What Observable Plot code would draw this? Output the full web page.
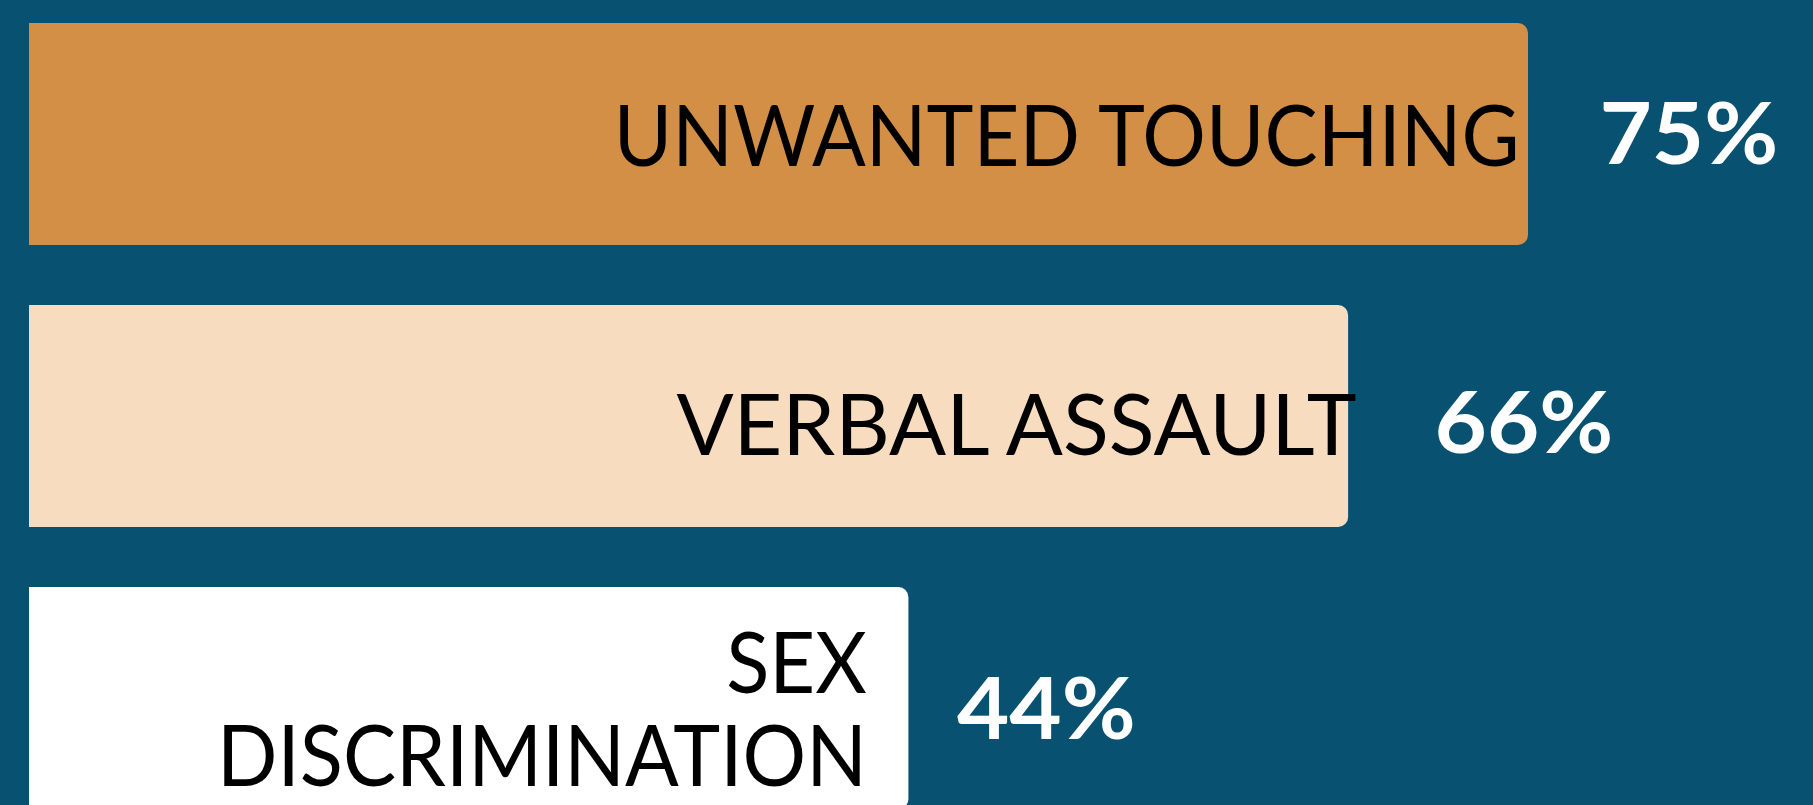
<!DOCTYPE html>
<html>
<head>
<meta charset="utf-8">
<script src="https://cdn.jsdelivr.net/npm/d3@7"></script>
<script src="https://cdn.jsdelivr.net/npm/@observablehq/plot@0.6"></script>
<style>
  html, body { margin: 0; padding: 0; background: #085170; overflow: hidden; }
  #chart svg { display: block; }
</style>
</head>
<body>
<div id="chart"></div>
<script>
// Data
const categories = ["UNWANTED TOUCHING", "VERBAL ASSAULT", "SEX\nDISCRIMINATION"];
const values = [75, 66, 44];
const valueLabels = ["75%", "66%", "44%"];
const palette = ["#d38f45", "#f7dcbf", "#ffffff"];

const data = categories.map((c, i) => ({category: c, value: values[i], label: valueLabels[i]}));

// per-row label nudges (styling)
const nameDx = [-9, 8, -42];
const nameDy = [2, 9, 11];
const nameSx = [0.925, 0.982, 0.925];
const pctDx = [71, 86, 48];
const pctDy = [2, 9, 13];

const FONT = "Lato, 'Noto Sans', sans-serif";

const rowMarks = data.flatMap((d, i) => [
  Plot.text([d], {
    x: "value", y: "category", text: "category",
    textAnchor: "end", lineAnchor: "middle", lineHeight: 1.08,
    dx: nameDx[i], dy: nameDy[i],
    fill: "#000000", fontSize: 86, fontWeight: 400, fontFamily: FONT,
    className: `cat-label-${i}`
  }),
  Plot.text([d], {
    x: "value", y: "category", text: "label",
    textAnchor: "start", lineAnchor: "middle",
    dx: pctDx[i], dy: pctDy[i],
    fill: "#ffffff", fontSize: 86, fontWeight: 700, fontFamily: FONT,
    className: "pct-label"
  })
]);

const chart = Plot.plot({
  width: 1813,
  height: 805,
  marginLeft: 29,
  marginRight: 285,
  marginTop: 0,
  marginBottom: 0,
  style: {background: "#085170", fontFamily: FONT, overflow: "hidden"},
  x: {domain: [0, 75], axis: null},
  y: {domain: categories, range: [23, 809], paddingInner: 0.213, paddingOuter: 0, align: 0, axis: null},
  color: {domain: categories, range: palette},
  marks: [
    Plot.barX(data, {x: "value", y: "category", fill: "category", rx: 10}),
    Plot.barX(data, {x1: 0, x2: d => d.value / 2, y: "category", fill: "category"}),
    ...rowMarks
  ]
});
document.getElementById("chart").appendChild(chart);

// Adjust glyph widths to match the reference typeface
function squeeze(selector, sx) {
  d3.select(chart).selectAll(selector + " text").each(function() {
    const t = this.getAttribute("transform") || "";
    this.setAttribute("transform", t + ` scale(${sx},1)`);
  });
}
nameSx.forEach((sx, i) => squeeze(`g.cat-label-${i}`, sx));
squeeze("g.pct-label", 1.05);
</script>
</body>
</html>
